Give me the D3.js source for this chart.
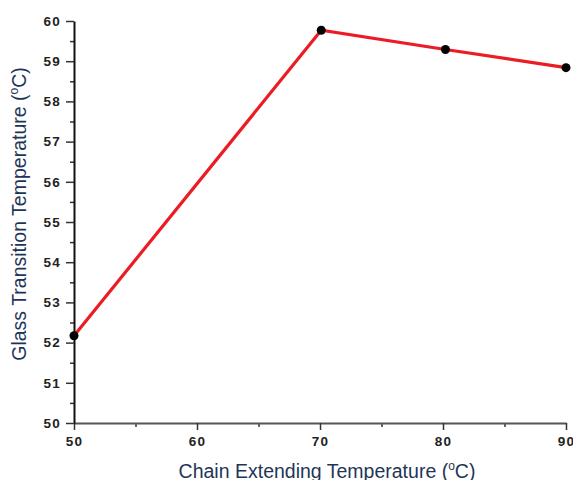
<!DOCTYPE html>
<html>
<head>
<meta charset="utf-8">
<script src="https://cdn.jsdelivr.net/npm/d3@7"></script>
<style>
  body { margin: 0; background: #fff; }
  svg { display: block; }
  .tick text { font-family: "Liberation Sans", Arial, sans-serif; font-weight: bold; font-size: 13.5px; fill: #222; letter-spacing: 1.2px; }
  .title { font-family: "Liberation Sans", Arial, sans-serif; fill: #1f3557; }
</style>
</head>
<body>
<svg width="573" height="480"></svg>
<script>
const chainTemp = [50, 70.1, 80.2, 90];
const glassTemp = [52.17, 59.77, 59.29, 58.84];
const xTicks = [50, 60, 70, 80, 90];
const yTicks = [50, 51, 52, 53, 54, 55, 56, 57, 58, 59, 60];

const svg = d3.select('svg');

const x = d3.scaleLinear().domain([50, 90]).range([74, 566]);
const y = d3.scaleLinear().domain([50, 60]).range([423, 21]);

const pts = chainTemp.map((d, i) => ({ x: d, y: glassTemp[i] }));

// minor ticks
svg.append('g')
  .attr('transform', 'translate(0,423)')
  .call(d3.axisBottom(x).tickValues(d3.range(55, 90, 10)).tickSize(4).tickFormat(''))
  .call(g => g.select('.domain').remove())
  .selectAll('line').attr('stroke', '#333').attr('stroke-width', 1.5);

svg.append('g')
  .attr('transform', 'translate(74,0)')
  .call(d3.axisLeft(y).tickValues(d3.range(50.5, 60, 1)).tickSize(4).tickFormat(''))
  .call(g => g.select('.domain').remove())
  .selectAll('line').attr('stroke', '#333').attr('stroke-width', 1.5);

const xAxis = svg.append('g')
  .attr('transform', 'translate(0,423)')
  .call(d3.axisBottom(x).tickValues(xTicks).tickSize(7).tickSizeOuter(0).tickPadding(6));
xAxis.select('.domain').attr('stroke', '#555').attr('stroke-width', 2);
xAxis.selectAll('.tick line').attr('stroke', '#333').attr('stroke-width', 1.5);

const yAxis = svg.append('g')
  .attr('transform', 'translate(74,0)')
  .call(d3.axisLeft(y).tickValues(yTicks).tickSize(8).tickSizeOuter(0).tickPadding(5));
yAxis.select('.domain').attr('stroke', '#111').attr('stroke-width', 2);
yAxis.selectAll('.tick line').attr('stroke', '#333').attr('stroke-width', 1.5);

const line = d3.line().x(d => x(d.x)).y(d => y(d.y));

svg.append('path')
  .datum(pts)
  .attr('d', line)
  .attr('fill', 'none')
  .attr('stroke', '#ec1c24')
  .attr('stroke-width', 3.2);

svg.append('g')
  .selectAll('circle')
  .data(pts)
  .enter().append('circle')
  .attr('cx', d => x(d.x))
  .attr('cy', d => y(d.y))
  .attr('r', 4.5)
  .attr('fill', '#000');

const xt = svg.append('text')
  .attr('class', 'title')
  .attr('x', 327)
  .attr('y', 478)
  .attr('text-anchor', 'middle')
  .style('font-size', '19.5px');
xt.append('tspan').text('Chain Extending Temperature (');
xt.append('tspan').text('o').attr('dy', -8).style('font-size', '12px');
xt.append('tspan').text('C)').attr('dy', 8);

const yt = svg.append('text')
  .attr('class', 'title')
  .attr('transform', 'translate(26,214) rotate(-90)')
  .attr('text-anchor', 'middle')
  .style('font-size', '19.5px');
yt.append('tspan').text('Glass Transition Temperature (');
yt.append('tspan').text('o').attr('dy', -8).style('font-size', '12px');
yt.append('tspan').text('C)').attr('dy', 8);
</script>
</body>
</html>
